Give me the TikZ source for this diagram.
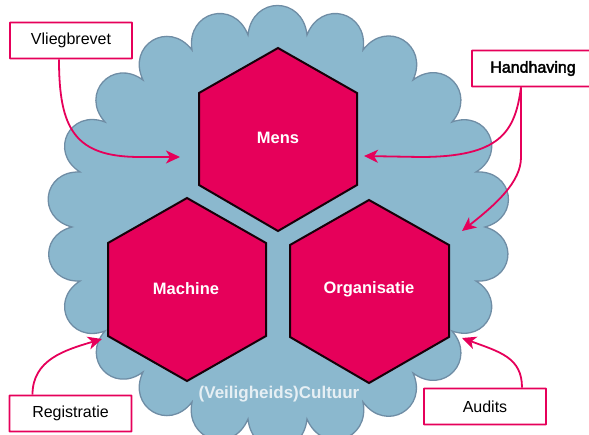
\documentclass[tikz,border=0pt]{standalone}
\usepackage{fontspec}
\setmainfont{Liberation Sans}
\newfontfamily\handfont[FakeBold=2.5]{Liberation Sans}
\usetikzlibrary{arrows.meta,calc}
\definecolor{pinkc}{HTML}{E6005A}
\definecolor{cloudc}{HTML}{8BB8CE}
\definecolor{cloudl}{HTML}{6F8DA5}
\definecolor{paletxt}{HTML}{E6EFF4}
\tikzset{
  scallop/.style={bend right=84,looseness=1.72},
  hexa/.style={fill=pinkc,draw=black!90!pinkc,line width=2pt,line join=miter},
  hexlabel/.style={text=white,font=\fontsize{16.5}{18}\selectfont\bfseries,inner sep=0pt},
  tagbox/.style={draw=pinkc,fill=white,line width=1.8pt,minimum width=122pt,minimum height=36pt,inner sep=0pt,rounded corners=0.5pt,font=\fontsize{16}{18}\selectfont},
  link/.style={draw=pinkc,line width=1.8pt,-{Stealth[length=14pt,width=13pt,inset=4pt]}},
}
\begin{document}
\begin{tikzpicture}[x=1pt,y=-1pt]
\useasboundingbox (0,0) rectangle (589,434);
\begin{scope}
\clip (0,0) rectangle (589,434);
\foreach \n/\p in {a/{248,35},b/{192,50},c/{143,80},d/{105,122},e/{80,172},f/{72,227},g/{80,281},h/{105,331},i/{143,372},j/{192,402},k/{248,419},l/{307,419},m/{363,402},n/{413,373},o/{452,331},p/{476,281},q/{485,227},r/{476,172},s/{452,122},t/{413,80},u/{363,50},v/{307,35}}
  \coordinate (\n) at (\p);
\path[fill=cloudc,draw=cloudl,line width=1.3pt,line join=miter]
  (a) to[scallop] (b) to[scallop] (c) to[scallop] (d) to[scallop] (e) to[scallop] (f)
  to[scallop] (g) to[scallop] (h) to[scallop] (i) to[scallop] (j) to[scallop] (k)
  to[scallop] (l) to[scallop] (m) to[scallop] (n) to[scallop] (o) to[scallop] (p)
  to[scallop] (q) to[scallop] (r) to[scallop] (s) to[scallop] (t) to[scallop] (u)
  to[scallop] (v) to[scallop] (a) -- cycle;
\end{scope}
\draw[hexa] (278,48) -- (357,93) -- (357,185) -- (278,231) -- (199,185) -- (199,93) -- cycle;
\draw[hexa] (187,198) -- (266,243) -- (266,336) -- (187,381) -- (108,336) -- (108,243) -- cycle;
\draw[hexa] (369,200) -- (449,245) -- (449,337) -- (369,383) -- (290,337) -- (290,245) -- cycle;
\node[hexlabel] (mens) at (278,138) {Mens};
\node[hexlabel] (machine) at (186,289) {Machine};
\node[hexlabel] (org) at (369,289) {Organisatie};
\node[text=paletxt,font=\fontsize{17}{18}\selectfont\bfseries,inner sep=0pt] (cult) at (279,394) {(Veiligheids)Cultuur};
\node[tagbox] (vlieg) at (71,40.5) {Vliegbrevet};
\node[tagbox,font=\fontsize{16}{18}\selectfont\handfont] (hand) at (533,68.5) {Handhaving};
\node[tagbox] (reg) at (70.5,413.5) {Registratie};
\node[tagbox] (aud) at (485,406.5) {Audits};
\coordinate (t1) at (180,157);
\coordinate (t2) at (364,156);
\coordinate (t3) at (462,231);
\coordinate (t4) at (102,339);
\coordinate (t5) at (462,338);
\path[link] ($(vlieg.south)+(-12,0)$) .. controls +(0,70) and (75,157) .. (140,157) -- (t1);
\path[link] ($(hand.south)+(-12,0)$) .. controls +(-6,45) and (500,157) .. (420,157) -- (t2);
\path[link] ($(hand.south)+(-12,0)$) -- +(0,70) .. controls +(0,25) and (495,205) .. (t3);
\path[link] ($(reg.north)+(-38,0)$) .. controls +(0,-35) and (65,350) .. (t4);
\path[link] ($(aud.north)+(37,0)$) .. controls +(0,-30) and (500,352) .. (t5);
\end{tikzpicture}
\end{document}
